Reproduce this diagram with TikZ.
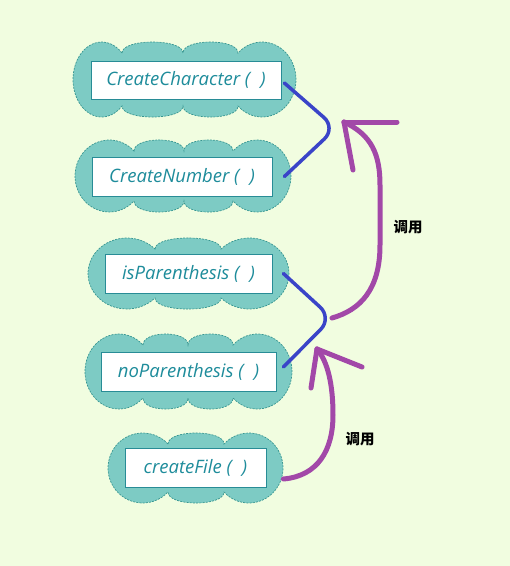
\documentclass[tikz,border=0pt]{standalone}
\usepackage{fontspec}
\usetikzlibrary{calc}
\newfontfamily\labfont{Open Sans}
\newfontfamily\cjkfont{Noto Sans CJK SC}
\definecolor{bg}{RGB}{241,253,224}
\definecolor{cloudfill}{RGB}{125,203,196}
\definecolor{clouddraw}{RGB}{55,150,145}
\definecolor{boxdraw}{RGB}{40,140,150}
\definecolor{txt}{RGB}{30,140,155}
\definecolor{blueln}{RGB}{58,68,200}
\definecolor{purp}{RGB}{162,72,168}
\tikzset{
  cloudsty/.style={fill=cloudfill, draw=clouddraw, line width=0.7pt, dash pattern=on 2pt off 1.2pt},
  funbox/.style={draw=boxdraw, fill=white, line width=0.8pt, inner sep=0pt,
    font=\labfont\itshape\fontsize{18.5}{22}\selectfont, text=txt},
  bline/.style={draw=blueln, line width=3.5pt, line cap=round, rounded corners=16pt},
  parrow/.style={draw=purp, line width=5pt, line cap=round, line join=round},
  calllab/.style={font=\cjkfont\bfseries\fontsize{14.5}{16}\selectfont, text=black},
}
\newcommand\mycloud[8]{%
  \pgfmathsetmacro\cldcy{(#3+#4)/2}%
  \pgfmathsetmacro\cldry{(#4-#3)/2}%
  \pgfmathsetmacro\cldphi{asin((\cldry-11)/\cldry)}%
  \pgfmathsetmacro\cldcp{cos(\cldphi)}%
  \pgfmathsetmacro\cldrxl{(#5-#1)/(1+\cldcp)}%
  \pgfmathsetmacro\cldcxl{#1+\cldrxl}%
  \pgfmathsetmacro\cldrxr{(#2-#6)/(1+\cldcp)}%
  \pgfmathsetmacro\cldcxr{#2-\cldrxr}%
  \pgfmathsetmacro\cldang{180-\cldphi}%
  \pgfmathsetmacro\cldangb{360-\cldphi}%
  \pgfmathsetmacro\cldytd{#3+11}%
  \pgfmathsetmacro\cldytc{#3-3.7}%
  \pgfmathsetmacro\cldybd{#4-11}%
  \pgfmathsetmacro\cldybc{#4+3.7}%
  \path[cloudsty] (#5,\cldytd)
    \foreach \cx [remember=\cx as \lx (initially #5)] in {#7} { .. controls (\lx,\cldytc) and (\cx,\cldytc) .. (\cx,\cldytd) }
    -- plot[domain=-\cldang:\cldang, samples=40] ({\cldcxr+\cldrxr*cos(\x)},{\cldcy+\cldry*sin(\x)})
    \foreach \cx [remember=\cx as \lx (initially #6)] in {#8} { .. controls (\lx,\cldybc) and (\cx,\cldybc) .. (\cx,\cldybd) }
    -- plot[domain=\cldphi:\cldangb, samples=40] ({\cldcxl+\cldrxl*cos(\x)},{\cldcy+\cldry*sin(\x)})
    -- cycle;
}
\begin{document}
\begin{tikzpicture}[x=1pt, y=-1pt]
\useasboundingbox (0,0) rectangle (510,566);
\fill[bg] (0,0) rectangle (510,566);

\mycloud{73}{296}{42}{117}{122}{238}{183,238}{183,122}
\mycloud{75}{291}{140}{212}{134}{233}{184,233}{184,134}
\mycloud{88}{289}{238}{309}{155}{221}{221}{155}
\mycloud{85}{292}{334}{409}{143}{233}{188,233}{188,143}
\mycloud{108}{283}{433}{503}{168}{224}{224}{168}

\node[funbox, minimum width=190pt, minimum height=38pt] (cc) at (186,80) {CreateCharacter (\hspace{0.55em})};
\node[funbox, minimum width=180pt, minimum height=39pt] (cn) at (182,176.5) {CreateNumber (\hspace{0.55em})};
\node[funbox, minimum width=167pt, minimum height=39pt] (ip) at (188.5,273.5) {isParenthesis (\hspace{0.55em})};
\node[funbox, minimum width=175pt, minimum height=39pt] (np) at (188.5,371.5) {noParenthesis (\hspace{0.55em})};
\node[funbox, minimum width=141pt, minimum height=39pt] (cf) at (195.5,467.5) {createFile (\hspace{0.55em})};

\coordinate (v1) at (336,128);
\coordinate (v2) at (332,318);
\coordinate (t1) at (344,122);
\coordinate (t1r) at (397,122);
\coordinate (t1b) at (353,170);
\coordinate (t2) at (317,349);
\coordinate (t2r) at (362,367);
\coordinate (t2b) at (311,388);

\draw[bline] ($(cc.east)+(3,3)$) -- (v1) -- ($(cn.east)+(12,0)$);
\draw[bline] ($(ip.east)+(11,0)$) -- (v2) -- ($(np.east)+(7,-4.5)$);

\draw[parrow] (v2) .. controls (360,310) and (380,290) .. (380,245) -- (380,185)
  .. controls (380,155) and (372,135) .. (t1);
\draw[parrow] (t1) -- (t1r);
\draw[parrow] (t1) -- (t1b);

\draw[parrow] ($(cf.east)+(17,11.5)$) .. controls (318,476) and (333,450) .. (333,415)
  .. controls (333,385) and (328,362) .. (t2);
\draw[parrow] (t2) -- (t2r);
\draw[parrow] (t2) -- (t2b);

\node[calllab] (l1) at (408,227) {调用};
\node[calllab] (l2) at (360,439) {调用};
\end{tikzpicture}
\end{document}
